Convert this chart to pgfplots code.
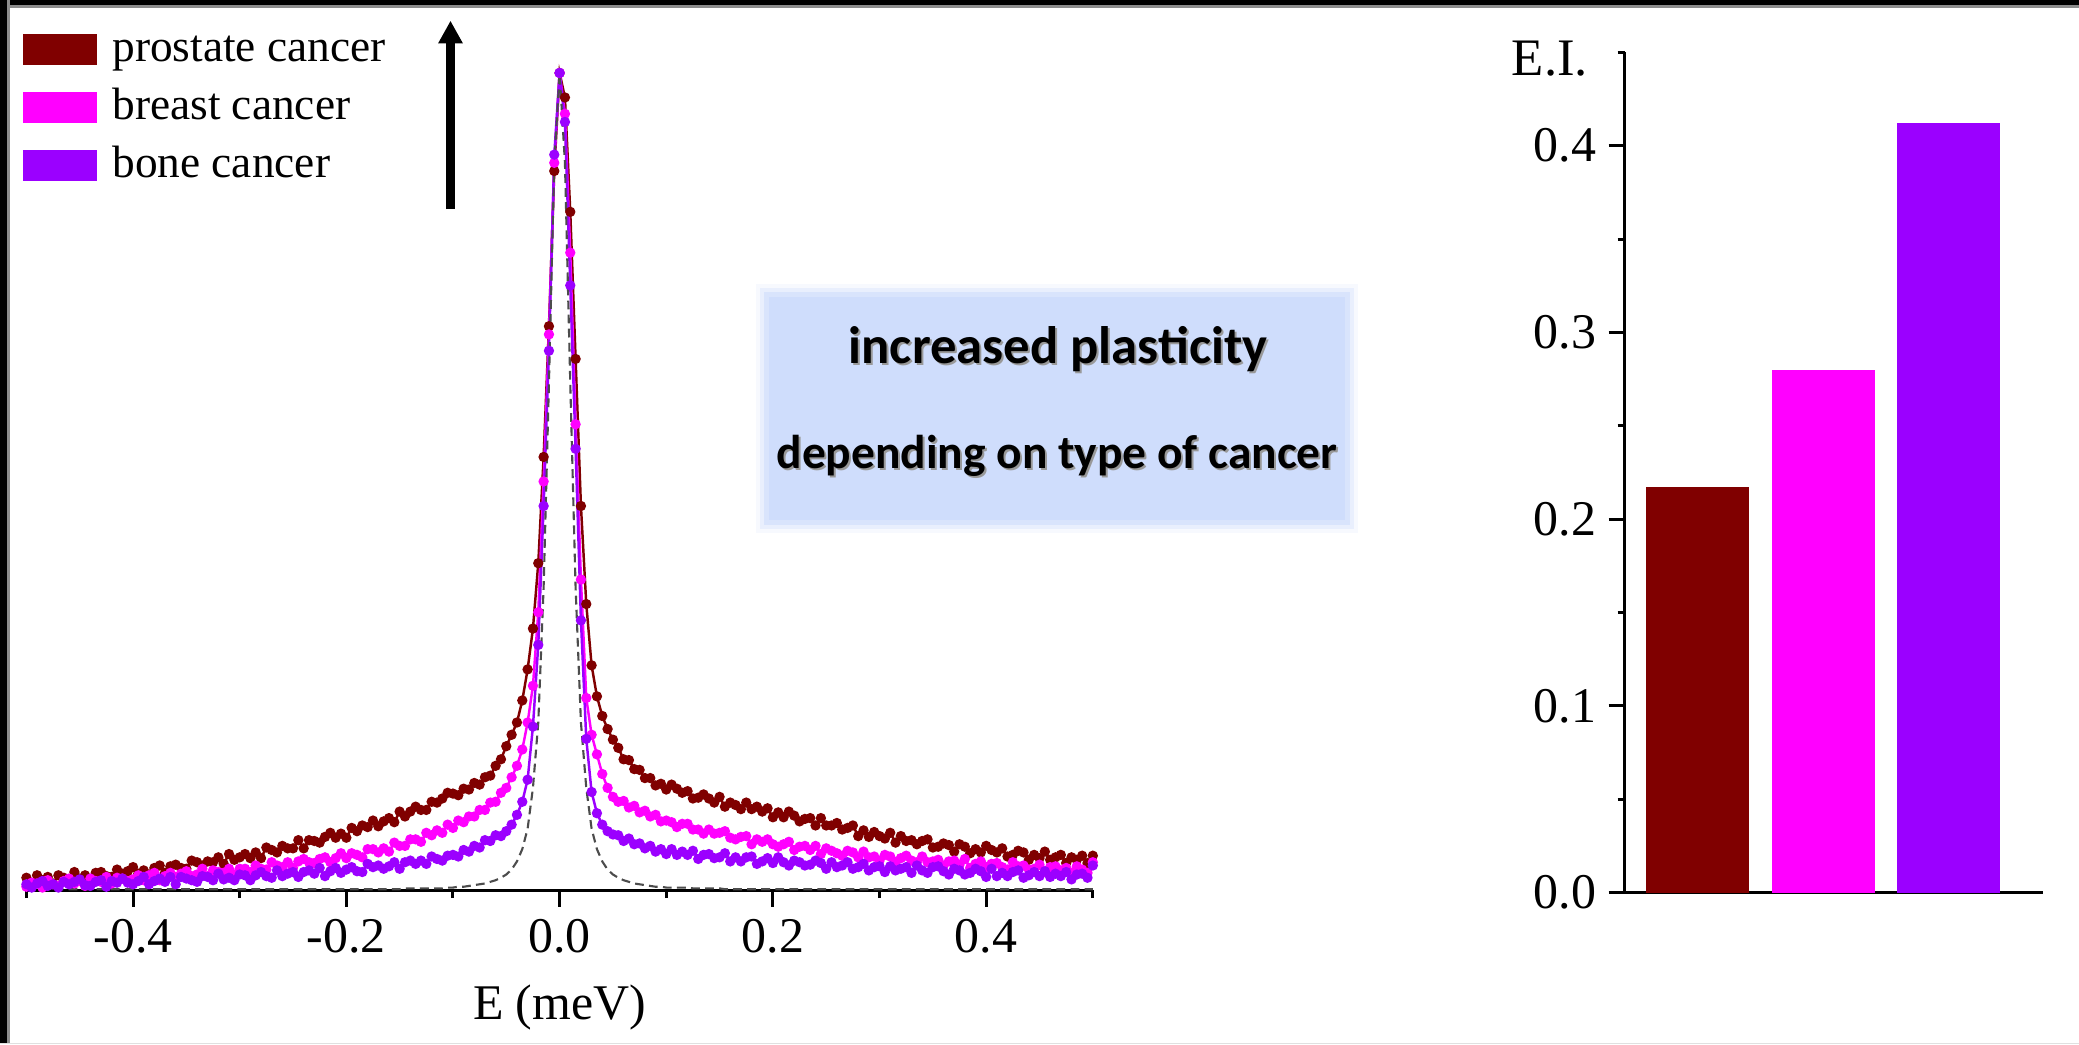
\documentclass[border=0pt]{standalone}
\usepackage{pgfplots}
\pgfplotsset{compat=1.18}
\usepackage{pgfplotstable}
\usepackage{fontspec}
\setmainfont{Liberation Serif}
\newfontfamily\carlito{Carlito}
\usetikzlibrary{arrows.meta}
\definecolor{prost}{RGB}{128,0,0}
\definecolor{breast}{RGB}{255,0,255}
\definecolor{bone}{RGB}{155,0,255}
\definecolor{boxblue}{RGB}{207,221,252}

\pgfplotstableread{
E P B O R
-0.500 0.015 0.004 0.007 0.001
-0.495 0.008 0.009 0.003 0.001
-0.490 0.018 0.008 0.008 0.001
-0.485 0.012 0.003 0.011 0.001
-0.480 0.016 0.012 0.005 0.001
-0.475 0.008 0.007 0.007 0.001
-0.470 0.018 0.005 0.003 0.001
-0.465 0.015 0.011 0.010 0.001
-0.460 0.012 0.014 0.007 0.001
-0.455 0.022 0.008 0.010 0.001
-0.450 0.014 0.011 0.013 0.001
-0.445 0.018 0.005 0.006 0.001
-0.440 0.012 0.014 0.005 0.001
-0.435 0.021 0.011 0.010 0.001
-0.430 0.022 0.010 0.012 0.001
-0.425 0.017 0.016 0.004 0.001
-0.420 0.016 0.008 0.011 0.001
-0.415 0.025 0.015 0.009 0.001
-0.410 0.020 0.014 0.014 0.001
-0.405 0.023 0.011 0.009 0.001
-0.400 0.028 0.013 0.007 0.001
-0.395 0.020 0.018 0.011 0.001
-0.390 0.024 0.012 0.016 0.001
-0.385 0.019 0.018 0.007 0.001
-0.380 0.027 0.021 0.011 0.001
-0.375 0.030 0.012 0.014 0.001
-0.370 0.021 0.017 0.010 0.001
-0.365 0.029 0.021 0.016 0.001
-0.360 0.031 0.016 0.007 0.001
-0.355 0.027 0.020 0.016 0.001
-0.350 0.026 0.023 0.014 0.001
-0.345 0.036 0.017 0.012 0.001
-0.340 0.034 0.019 0.010 0.001
-0.335 0.030 0.026 0.017 0.001
-0.330 0.035 0.017 0.016 0.001
-0.325 0.034 0.024 0.012 0.001
-0.320 0.040 0.022 0.020 0.001
-0.315 0.032 0.021 0.013 0.001
-0.310 0.044 0.026 0.015 0.001
-0.305 0.037 0.019 0.012 0.001
-0.300 0.040 0.026 0.019 0.001
-0.295 0.044 0.026 0.018 0.001
-0.290 0.039 0.022 0.012 0.001
-0.285 0.046 0.030 0.018 0.001
-0.280 0.039 0.026 0.022 0.001
-0.275 0.052 0.025 0.017 0.001
-0.270 0.049 0.034 0.015 0.001
-0.265 0.046 0.030 0.024 0.001
-0.260 0.054 0.028 0.017 0.001
-0.255 0.051 0.034 0.020 0.001
-0.250 0.051 0.027 0.022 0.001
-0.245 0.061 0.035 0.016 0.001
-0.240 0.051 0.038 0.022 0.001
-0.235 0.061 0.034 0.024 0.001
-0.230 0.060 0.033 0.020 0.001
-0.225 0.058 0.038 0.027 0.001
-0.220 0.065 0.040 0.017 0.001
-0.215 0.070 0.034 0.023 0.001
-0.210 0.064 0.039 0.027 0.001
-0.205 0.069 0.045 0.021 0.001
-0.200 0.064 0.039 0.025 0.001
-0.195 0.076 0.045 0.028 0.001
-0.190 0.072 0.043 0.023 0.001
-0.185 0.079 0.040 0.022 0.001
-0.180 0.077 0.050 0.032 0.001
-0.175 0.085 0.050 0.028 0.001
-0.170 0.078 0.046 0.030 0.001
-0.165 0.084 0.051 0.026 0.001
-0.160 0.088 0.047 0.029 0.001
-0.155 0.083 0.058 0.034 0.001
-0.150 0.096 0.054 0.026 0.001
-0.145 0.090 0.054 0.034 0.002
-0.140 0.096 0.062 0.036 0.002
-0.135 0.102 0.062 0.032 0.002
-0.130 0.098 0.059 0.036 0.002
-0.125 0.098 0.070 0.032 0.002
-0.120 0.108 0.067 0.041 0.002
-0.115 0.107 0.073 0.038 0.002
-0.110 0.112 0.070 0.036 0.002
-0.105 0.119 0.080 0.042 0.003
-0.100 0.118 0.076 0.043 0.003
-0.095 0.116 0.085 0.041 0.004
-0.090 0.124 0.083 0.049 0.004
-0.085 0.123 0.090 0.047 0.005
-0.080 0.131 0.090 0.054 0.006
-0.075 0.129 0.098 0.052 0.007
-0.070 0.138 0.098 0.061 0.008
-0.065 0.140 0.107 0.060 0.010
-0.060 0.152 0.108 0.067 0.012
-0.055 0.160 0.119 0.066 0.015
-0.050 0.176 0.125 0.072 0.019
-0.045 0.190 0.138 0.080 0.025
-0.040 0.205 0.152 0.092 0.035
-0.035 0.232 0.172 0.108 0.050
-0.030 0.270 0.205 0.135 0.075
-0.025 0.320 0.250 0.200 0.125
-0.020 0.400 0.340 0.300 0.205
-0.015 0.530 0.500 0.470 0.370
-0.010 0.690 0.680 0.660 0.620
-0.005 0.880 0.890 0.900 0.890
0.000 1.000 1.000 1.000 1.000
0.005 0.970 0.950 0.940 0.890
0.010 0.830 0.780 0.740 0.620
0.015 0.650 0.570 0.540 0.370
0.020 0.470 0.380 0.330 0.205
0.025 0.350 0.235 0.185 0.125
0.030 0.275 0.190 0.120 0.075
0.035 0.237 0.166 0.094 0.050
0.040 0.213 0.142 0.080 0.035
0.045 0.197 0.125 0.072 0.025
0.050 0.184 0.114 0.068 0.019
0.055 0.174 0.108 0.067 0.015
0.060 0.160 0.109 0.060 0.012
0.065 0.159 0.101 0.063 0.010
0.070 0.148 0.103 0.056 0.008
0.075 0.147 0.095 0.057 0.007
0.080 0.137 0.097 0.051 0.006
0.085 0.137 0.090 0.054 0.005
0.090 0.128 0.092 0.047 0.004
0.095 0.130 0.084 0.050 0.004
0.100 0.123 0.085 0.044 0.003
0.105 0.129 0.083 0.050 0.003
0.110 0.124 0.077 0.043 0.003
0.115 0.119 0.081 0.047 0.003
0.120 0.121 0.081 0.043 0.003
0.125 0.112 0.074 0.048 0.002
0.130 0.113 0.074 0.038 0.002
0.135 0.117 0.069 0.043 0.002
0.140 0.112 0.074 0.044 0.002
0.145 0.107 0.069 0.039 0.002
0.150 0.114 0.070 0.040 0.002
0.155 0.102 0.072 0.045 0.001
0.160 0.107 0.064 0.035 0.001
0.165 0.104 0.062 0.040 0.001
0.170 0.099 0.065 0.035 0.001
0.175 0.107 0.066 0.040 0.001
0.180 0.099 0.056 0.041 0.001
0.185 0.102 0.062 0.032 0.001
0.190 0.096 0.059 0.035 0.001
0.195 0.100 0.062 0.039 0.001
0.200 0.089 0.056 0.033 0.001
0.205 0.095 0.053 0.040 0.001
0.210 0.089 0.056 0.034 0.001
0.215 0.096 0.059 0.030 0.001
0.220 0.091 0.049 0.036 0.001
0.225 0.084 0.053 0.034 0.001
0.230 0.087 0.054 0.030 0.001
0.235 0.088 0.049 0.031 0.001
0.240 0.079 0.054 0.036 0.001
0.245 0.088 0.044 0.033 0.001
0.250 0.079 0.051 0.026 0.001
0.255 0.079 0.048 0.034 0.001
0.260 0.082 0.045 0.028 0.001
0.265 0.074 0.042 0.030 0.001
0.270 0.076 0.048 0.034 0.001
0.275 0.079 0.046 0.026 0.001
0.280 0.066 0.040 0.028 0.001
0.285 0.073 0.047 0.032 0.001
0.290 0.065 0.040 0.024 0.001
0.295 0.071 0.041 0.028 0.001
0.300 0.066 0.036 0.029 0.001
0.305 0.063 0.043 0.022 0.001
0.310 0.070 0.041 0.029 0.001
0.315 0.058 0.034 0.024 0.001
0.320 0.066 0.039 0.026 0.001
0.325 0.060 0.042 0.028 0.001
0.330 0.061 0.036 0.021 0.001
0.335 0.056 0.034 0.030 0.001
0.340 0.060 0.041 0.024 0.001
0.345 0.062 0.034 0.021 0.001
0.350 0.052 0.035 0.028 0.001
0.355 0.053 0.037 0.029 0.001
0.360 0.057 0.030 0.023 0.001
0.365 0.055 0.035 0.019 0.001
0.370 0.047 0.036 0.026 0.001
0.375 0.056 0.031 0.024 0.001
0.380 0.053 0.038 0.019 0.001
0.385 0.045 0.027 0.021 0.001
0.390 0.050 0.032 0.026 0.001
0.395 0.046 0.035 0.023 0.001
0.400 0.054 0.028 0.016 0.001
0.405 0.049 0.032 0.026 0.001
0.410 0.046 0.033 0.017 0.001
0.415 0.051 0.028 0.021 0.001
0.420 0.041 0.025 0.017 0.001
0.425 0.043 0.034 0.022 0.001
0.430 0.048 0.029 0.024 0.001
0.435 0.046 0.030 0.015 0.001
0.440 0.037 0.025 0.018 0.001
0.445 0.043 0.026 0.022 0.001
0.450 0.039 0.031 0.017 0.001
0.455 0.047 0.022 0.023 0.001
0.460 0.037 0.028 0.016 0.001
0.465 0.040 0.029 0.020 0.001
0.470 0.043 0.024 0.017 0.001
0.475 0.033 0.027 0.022 0.001
0.480 0.040 0.021 0.013 0.001
0.485 0.037 0.029 0.019 0.001
0.490 0.042 0.025 0.020 0.001
0.495 0.033 0.021 0.015 0.001
0.500 0.042 0.034 0.030 0.001
}\spec

\begin{document}
\begin{tikzpicture}[x=1cm,y=1cm]
\useasboundingbox (0,0) rectangle (20.79,10.44);
\fill[white] (0,0) rectangle (20.79,10.44);
% frame
\fill[black!45] (0,10.36) rectangle (20.79,10.39);
\fill[black] (0,10.39) rectangle (20.79,10.44);
\fill[black!45] (0.07,0) rectangle (0.10,10.44);
\fill[black] (0,0) rectangle (0.07,10.44);
\fill[black!12] (0,0) rectangle (20.79,0.015);

% annotation box
\fill[boxblue, opacity=0.15] (7.56,5.11) rectangle (13.58,7.60);
\fill[boxblue, opacity=0.35] (7.60,5.15) rectangle (13.54,7.56);
\fill[boxblue, opacity=0.6] (7.64,5.19) rectangle (13.50,7.52);
\fill[boxblue] (7.69,5.24) rectangle (13.45,7.47);
\node[anchor=base, text=black!40, font=\carlito\bfseries\fontsize{15}{18}\selectfont] at (10.60,6.79) {increased plasticity};
\node[anchor=base, font=\carlito\bfseries\fontsize{15}{18}\selectfont] at (10.58,6.81) {increased plasticity};
\node[anchor=base, text=black!40, font=\carlito\bfseries\fontsize{13.5}{16}\selectfont] at (10.59,5.74) {depending on type of cancer};
\node[anchor=base, font=\carlito\bfseries\fontsize{13.5}{16}\selectfont] at (10.57,5.76) {depending on type of cancer};

% arrow
\draw[line width=0.09cm, -{Triangle[width=0.23cm,length=0.226cm]}] (4.505,8.35) -- (4.505,10.233);

\begin{axis}[
  at={(0.264cm,1.54cm)}, anchor=south west,
  scale only axis, width=10.664cm, height=8.579cm,
  xmin=-0.5, xmax=0.5, ymin=0, ymax=1.05,
  axis x line*=bottom, axis y line=none,
  axis line style={line width=0.85pt},
  xtick={-0.4,-0.2,0,0.2,0.4},
  xticklabels={-0.4,-0.2,0.0,0.2,0.4},
  minor xtick={-0.5,-0.3,-0.1,0.1,0.3,0.5},
  ytick=\empty,
  tick align=outside,
  major tick length=0.167cm, minor tick length=0.08cm,
  tick style={black, line width=0.85pt},
  tick label style={font=\fontsize{14.2}{17}\selectfont},
  xlabel={E (meV)},
  xlabel style={font=\fontsize{14.2}{17}\selectfont, at={(axis description cs:0.5,-0.1515)}, anchor=base},
  legend cell align=left,
  legend style={draw=none, fill=none, at={(axis description cs:-0.0032,1.0129)}, anchor=north west,
    inner sep=0pt, outer sep=0pt, row sep=0pt, column sep=0.15cm,
    font=\fontsize{12.9}{15}\selectfont,
    nodes={inner sep=0pt, text height=0.40cm, text depth=0.18cm}},
]
\addplot[prost, line width=0.7pt, mark=*, mark size=1.1pt, forget plot] table[x=E, y=P] {\spec};
\addplot[breast, line width=0.7pt, mark=*, mark size=1.1pt, forget plot] table[x=E, y=B] {\spec};
\addplot[bone, line width=0.7pt, mark=*, mark size=1.1pt, forget plot] table[x=E, y=O] {\spec};
\addplot[black!70, line width=0.6pt, dash pattern=on 2.5pt off 1.5pt, forget plot] table[x=E, y=R] {\spec};
\addlegendimage{legend image code/.code={\fill[prost] (0cm,-0.14cm) rectangle (0.73cm,0.15cm);}}
\addlegendentry{prostate cancer}
\addlegendimage{legend image code/.code={\fill[breast] (0cm,-0.14cm) rectangle (0.73cm,0.15cm);}}
\addlegendentry{breast cancer}
\addlegendimage{legend image code/.code={\fill[bone] (0cm,-0.14cm) rectangle (0.73cm,0.15cm);}}
\addlegendentry{bone cancer}
\end{axis}

\begin{axis}[
  at={(16.245cm,1.513cm)}, anchor=south west,
  scale only axis, width=4.186cm, height=8.404cm,
  xmin=0.42, xmax=3.75, ymin=0, ymax=0.45,
  axis x line*=bottom, axis y line*=left,
  axis line style={line width=0.85pt},
  xtick=\empty,
  ytick={0,0.1,0.2,0.3,0.4},
  yticklabels={0.0,0.1,0.2,0.3,0.4},
  minor ytick={0.05,0.15,0.25,0.35,0.45},
  tick align=outside,
  major tick length=0.16cm, minor tick length=0.07cm,
  tick style={black, line width=0.85pt},
  tick label style={font=\fontsize{14.2}{17}\selectfont},
  ylabel={E.I.},
  ylabel style={rotate=-90, at={(axis description cs:-0.178,0.972)}, anchor=base, font=\fontsize{15}{18}\selectfont},
]
\addplot[ybar, bar width=1.03cm, bar shift=0pt, draw=none, fill=prost] coordinates {(1,0.217)};
\addplot[ybar, bar width=1.03cm, bar shift=0pt, draw=none, fill=breast] coordinates {(2,0.280)};
\addplot[ybar, bar width=1.03cm, bar shift=0pt, draw=none, fill=bone] coordinates {(3,0.412)};
\end{axis}
\end{tikzpicture}
\end{document}
